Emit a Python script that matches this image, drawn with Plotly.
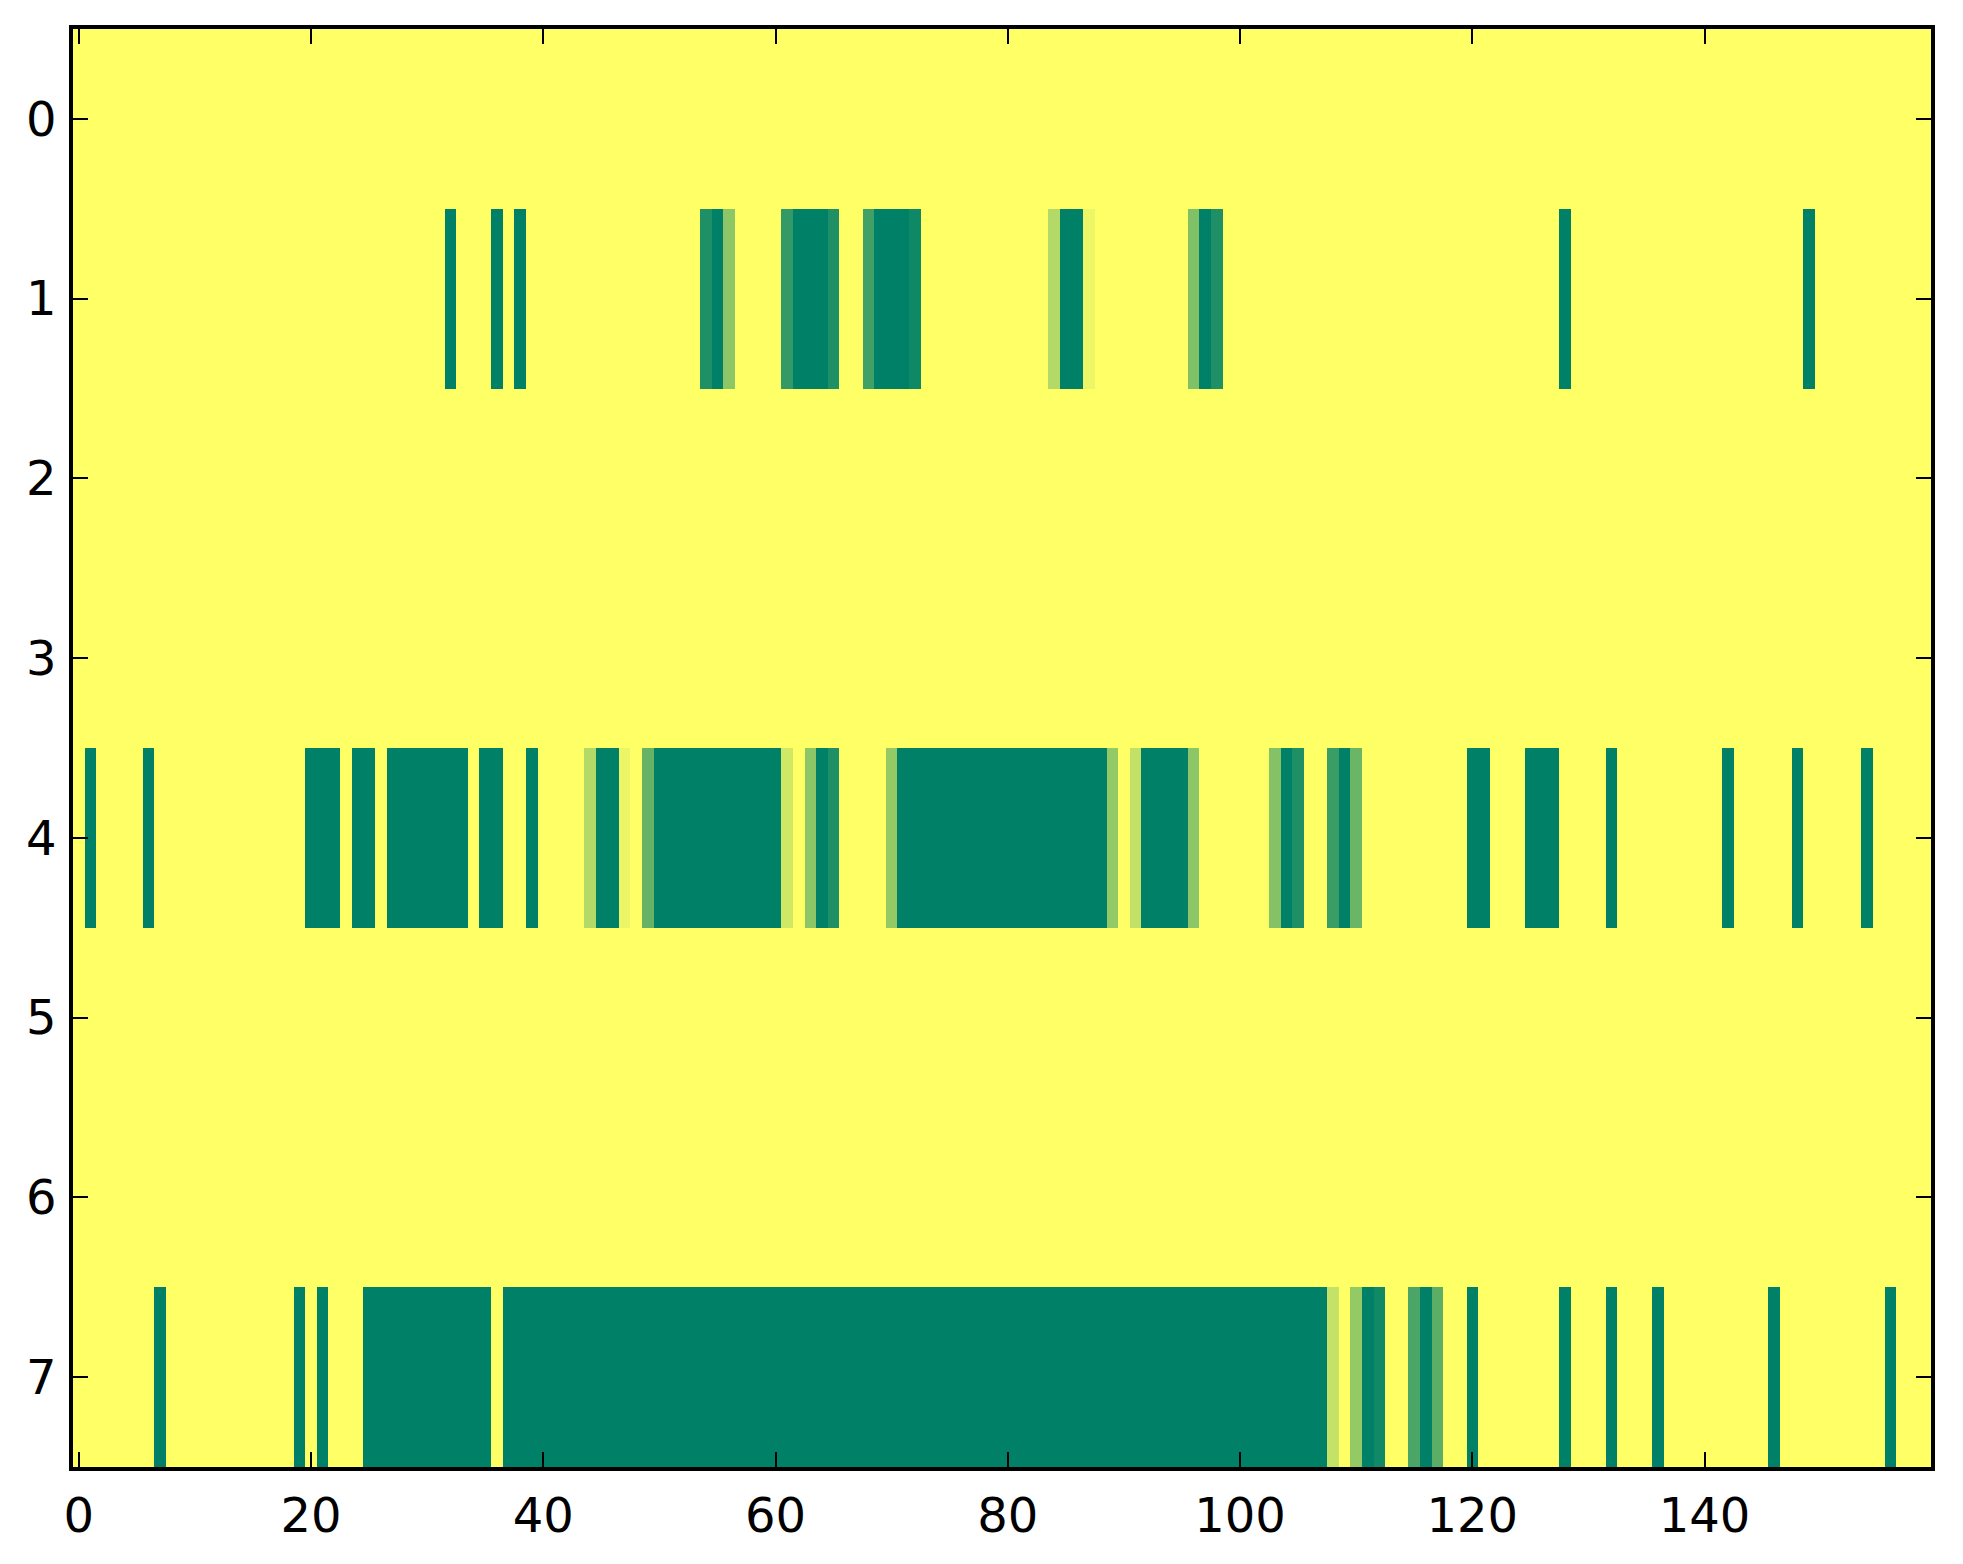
import numpy as np
import plotly.graph_objects as go

n_rows = 8
n_cols = 160

# columns that are fully "off" (value 0, dark green) per row
row1_zero = [32, 36, 38, 55, 62, 63, 64, 69, 70, 71, 85, 86, 97, 128, 149]
row4_zero = [1, 6, 20, 21, 22, 24, 25, 27, 28, 29, 30, 31, 32, 33, 35, 36, 39,
             45, 46, 50, 51, 52, 53, 54, 55, 56, 57, 58, 59, 60, 64,
             71, 72, 73, 74, 75, 76, 77, 78, 79, 80, 81, 82, 83, 84, 85, 86, 87, 88,
             92, 93, 94, 95, 104, 109, 120, 121, 125, 126, 127, 132, 142, 148, 154]
row7_zero = [7, 19, 21, 25, 26, 27, 28, 29, 30, 31, 32, 33, 34, 35] + \
            list(range(37, 108)) + [111, 116, 120, 128, 132, 136, 146, 156]

# columns with in-between values
row1_part = {54: 0.12, 56: 0.55, 61: 0.2, 65: 0.12, 68: 0.25, 72: 0.06,
             84: 0.7, 87: 0.93, 96: 0.5, 98: 0.12}
row4_part = {44: 0.7, 47: 0.92, 49: 0.4, 61: 0.82, 63: 0.55, 65: 0.12, 70: 0.58,
             89: 0.58, 91: 0.76, 96: 0.55, 103: 0.52, 105: 0.12, 108: 0.23, 110: 0.42}
row7_part = {108: 0.77, 110: 0.58, 112: 0.07, 115: 0.29, 117: 0.36}

z = np.ones((n_rows, n_cols))
for r, zeros, parts in [(1, row1_zero, row1_part), (4, row4_zero, row4_part), (7, row7_zero, row7_part)]:
    z[r, zeros] = 0.0
    for c, v in parts.items():
        z[r, c] = v

# matplotlib "summer" colormap
summer = [[0.0, "rgb(0,128,102)"], [1.0, "rgb(255,255,102)"]]

fig = go.Figure(go.Heatmap(
    z=z,
    x=np.arange(n_cols),
    y=np.arange(n_rows),
    colorscale=summer,
    zmin=0, zmax=1,
    zsmooth=False,
    showscale=False,
    hoverinfo="skip",
))

axis_style = dict(
    showline=True, linecolor="black", linewidth=3.5, mirror="allticks",
    ticks="inside", ticklen=15, tickwidth=2, tickcolor="black",
    showgrid=False, zeroline=False,
    tickfont=dict(family="DejaVu Sans", size=48, color="black"),
)

fig.update_xaxes(range=[-0.5, n_cols - 0.5], tickvals=list(range(0, 160, 20)),
                 ticklabelstandoff=4, **axis_style)
fig.update_yaxes(range=[n_rows - 0.5, -0.5], tickvals=list(range(n_rows)),
                 ticklabelstandoff=3, **axis_style)

# page body adds an 8px offset, so the figure is 8px smaller than the window
fig.update_layout(
    width=1955, height=1556,
    margin=dict(l=65, r=32, t=21, b=97),
    paper_bgcolor="white", plot_bgcolor="white",
)

fig.write_html("out.html")
